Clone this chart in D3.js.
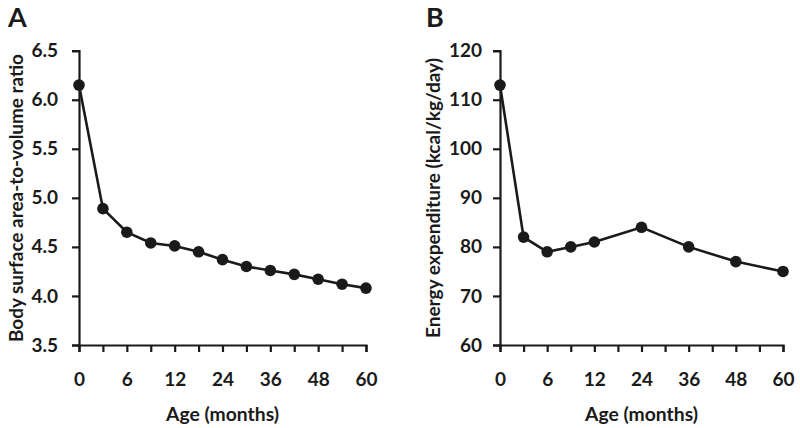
<!DOCTYPE html>
<html>
<head>
<meta charset="utf-8">
<script src="https://cdn.jsdelivr.net/npm/d3@7"></script>
<style>
  body { margin: 0; background: #fff; }
  svg text { font-family: Lato, "Open Sans", sans-serif; font-weight: bold; fill: #1a1a1a; }
</style>
</head>
<body>
<svg id="chart" width="800" height="428"></svg>
<script>
// x positions are evenly spaced categories (months)
var months = [0, 3, 6, 9, 12, 18, 24, 30, 36, 42, 48, 54, 60];
var labelledMonths = [0, 6, 12, 24, 36, 48, 60];

// panel A: body surface area-to-volume ratio
var ratioMonths = [0, 3, 6, 9, 12, 18, 24, 30, 36, 42, 48, 54, 60];
var ratioValues = [6.15, 4.89, 4.65, 4.54, 4.51, 4.45, 4.37, 4.30, 4.26, 4.22, 4.17, 4.12, 4.08];
var ratioTicks = [3.5, 4.0, 4.5, 5.0, 5.5, 6.0, 6.5];

// panel B: energy expenditure
var energyMonths = [0, 3, 6, 9, 12, 24, 36, 48, 60];
var energyValues = [113, 82, 79, 80, 81, 84, 80, 77, 75];
var energyTicks = [60, 70, 80, 90, 100, 110, 120];

var ink = "#1a1a1a";
var svg = d3.select("svg#chart");

function drawPanel(opt) {
  var x = d3.scalePoint().domain(months).range([opt.left, opt.right]);
  var y = d3.scaleLinear().domain(opt.yDomain).range([345, 50.7]);
  var g = svg.append("g");

  g.append("g")
    .attr("transform", "translate(0,345)")
    .call(d3.axisBottom(x).tickSizeOuter(0).tickSize(7).tickPadding(21)
      .tickFormat(d => labelledMonths.indexOf(d) >= 0 ? d : ""));

  g.append("g")
    .attr("transform", "translate(" + opt.left + ",0)")
    .call(d3.axisLeft(y).tickValues(opt.ticks).tickSizeOuter(0).tickSize(7).tickPadding(opt.yPad)
      .tickFormat(opt.fmt));

  g.selectAll(".domain, .tick line").attr("stroke", ink).attr("stroke-width", 2.2);
  g.selectAll(".tick text").style("font-size", "19px").attr("fill", ink);

  var line = d3.line().x((d, i) => x(opt.months[i])).y(d => y(d));
  g.append("path")
    .datum(opt.values)
    .attr("d", line)
    .attr("fill", "none")
    .attr("stroke", ink)
    .attr("stroke-width", 2.6);

  g.selectAll("circle")
    .data(opt.values)
    .enter()
    .append("circle")
    .attr("cx", (d, i) => x(opt.months[i]))
    .attr("cy", d => y(d))
    .attr("r", 5.8)
    .attr("fill", ink);

  // axis titles, stretched to the reference's measured lengths
  g.append("text")
    .attr("x", (opt.left + opt.right) / 2)
    .attr("y", 413)
    .attr("dominant-baseline", "central")
    .attr("text-anchor", "middle")
    .attr("textLength", 113)
    .attr("lengthAdjust", "spacingAndGlyphs")
    .style("font-size", "19px")
    .text("Age (months)");

  g.append("text")
    .attr("transform", "translate(" + opt.titleX + ",198) rotate(-90)")
    .attr("dominant-baseline", "central")
    .attr("text-anchor", "middle")
    .attr("textLength", opt.titleLen)
    .attr("lengthAdjust", "spacingAndGlyphs")
    .style("font-size", "19px")
    .text(opt.yTitle);

  g.append("text")
    .attr("x", opt.letterX)
    .attr("y", 27)
    .style("font-size", "27px")
    .text(opt.letter);
}

drawPanel({
  left: 79, right: 366, yDomain: [3.5, 6.5], ticks: ratioTicks, fmt: d3.format(".1f"), yPad: 14,
  months: ratioMonths, values: ratioValues,
  titleX: 15, titleLen: 288, yTitle: "Body surface area-to-volume ratio", letter: "A", letterX: 8
});

drawPanel({
  left: 500, right: 783, yDomain: [60, 120], ticks: energyTicks, fmt: d3.format("d"), yPad: 11,
  months: energyMonths, values: energyValues,
  titleX: 432, titleLen: 280, yTitle: "Energy expenditure (kcal/kg/day)", letter: "B", letterX: 426
});
</script>
</body>
</html>
